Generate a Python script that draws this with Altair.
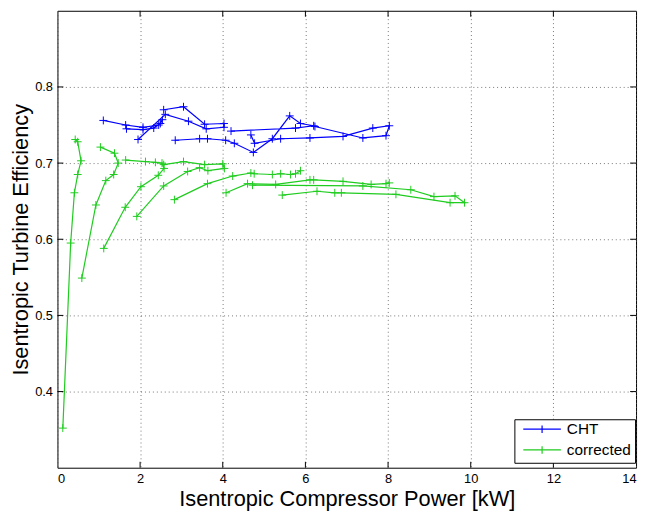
import altair as alt
import pandas as pd

# ---------------- data ----------------
series_names = ["CHT", "corrected"]
series_colors = ["#0000ff", "#1fcc1f"]

# CHT (blue) - one id per speed line
cht_line = [3]*9 + [4]*9 + [5]*12 + [6]*10
cht_x = [1.11, 1.65, 2.07, 2.45, 2.54, 2.49, 2.33, 2.07, 1.67,
         1.95, 2.61, 3.17, 3.60, 4.03, 4.03, 3.56, 3.05, 2.57,
         2.85, 3.44, 3.63, 4.07, 4.28, 4.74, 5.20, 5.62, 5.88, 6.20, 5.76, 4.20,
         4.68, 4.77, 5.40, 6.11, 6.91, 7.63, 8.03, 7.95, 7.39, 6.23]
cht_y = [0.756, 0.750, 0.747, 0.750, 0.757, 0.752, 0.746, 0.744, 0.745,
         0.731, 0.764, 0.755, 0.745, 0.747, 0.752, 0.751, 0.774, 0.770,
         0.730, 0.732, 0.732, 0.730, 0.726, 0.714, 0.732, 0.762, 0.752, 0.749, 0.746, 0.742,
         0.737, 0.726, 0.732, 0.733, 0.735, 0.746, 0.749, 0.736, 0.733, 0.748]

# corrected (green)
corr_line = [1]*7 + [2]*7 + [3]*9 + [4]*10 + [5]*10 + [6]*9 + [7]*12
corr_x = [0.13, 0.32, 0.41, 0.49, 0.57, 0.49, 0.43,
          0.59, 0.93, 1.17, 1.36, 1.47, 1.38, 1.04,
          1.12, 1.64, 2.02, 2.44, 2.58, 2.53, 2.37, 2.13, 1.65,
          1.92, 2.57, 3.15, 3.44, 3.64, 4.04, 4.00, 3.56, 3.05, 2.57,
          2.83, 3.63, 4.24, 4.68, 4.76, 5.20, 5.40, 5.64, 5.76, 5.88,
          4.08, 4.60, 5.28, 6.11, 6.20, 6.91, 7.59, 7.95, 8.03,
          4.72, 7.39, 8.55, 9.11, 9.62, 9.85, 9.50, 8.19, 6.87, 6.71, 6.28, 5.44]
corr_y = [0.352, 0.595, 0.661, 0.685, 0.703, 0.728, 0.731,
          0.549, 0.645, 0.677, 0.685, 0.700, 0.713, 0.721,
          0.588, 0.642, 0.669, 0.684, 0.693, 0.700, 0.701, 0.702, 0.704,
          0.630, 0.670, 0.689, 0.694, 0.690, 0.693, 0.699, 0.698, 0.702, 0.698,
          0.652, 0.673, 0.683, 0.687, 0.686, 0.685, 0.686, 0.685, 0.686, 0.690,
          0.661, 0.673, 0.672, 0.678, 0.678, 0.676, 0.672, 0.673, 0.674,
          0.671, 0.670, 0.665, 0.656, 0.657, 0.648, 0.648, 0.659, 0.661, 0.661, 0.663, 0.658]

x_ticks = [0, 2, 4, 6, 8, 10, 12, 14]
y_ticks = [0.4, 0.5, 0.6, 0.7, 0.8]
x_inner_ticks = [2, 4, 6, 8, 10, 12]

# ---------------- table ----------------
rows = []
for i, (x, y, s) in enumerate(zip(cht_x, cht_y, cht_line)):
    rows.append({"x": x, "y": y, "series": "CHT", "seg": f"CHT-{s}", "ord": i})
for i, (x, y, s) in enumerate(zip(corr_x, corr_y, corr_line)):
    rows.append({"x": x, "y": y, "series": "corrected", "seg": f"cor-{s}", "ord": i})
df = pd.DataFrame(rows)

xt = pd.DataFrame({"x": x_inner_ticks})
yt = pd.DataFrame({"y": y_ticks})

W, H = 585, 462
FONT = "Liberation Sans"

xscale = alt.Scale(domain=[0, 14], nice=False, zero=False)
yscale = alt.Scale(domain=[0.3, 0.9], nice=False, zero=False)
cscale = alt.Scale(domain=series_names, range=series_colors)

xaxis = alt.Axis(values=x_ticks, format="d", title="Isentropic Compressor Power [kW]",
                 grid=True, ticks=False, domain=False, labelFontSize=13, labelPadding=5,
                 labelColor="black", titleFontSize=22, titleFontWeight="normal",
                 titleColor="black", titleBaseline="alphabetic", titleY=38.5, titleX=W / 2)
yaxis = alt.Axis(values=y_ticks, format=".1f", title="Isentropic Turbine Efficiency",
                 grid=True, ticks=False, domain=False, labelFontSize=13, labelPadding=5,
                 labelColor="black", titleFontSize=22, titleFontWeight="normal",
                 titleColor="black", titleAngle=270, titleBaseline="alphabetic",
                 titleX=-30, titleY=H / 2, titleAlign="center")

legend = alt.Legend(
    title=None, orient="none", legendX=462, legendY=413,
    symbolType="M-1,0L1,0M0,-0.2L0,0.2", symbolSize=1444, symbolStrokeWidth=1.2,
    clipHeight=12, rowPadding=5, padding=4, symbolOffset=4, labelOffset=5,
    labelFontSize=15.5, labelColor="black", strokeColor="black", fillColor="white",
    cornerRadius=0)

plus = "M-1,0L1,0M0,-1L0,1"

lines = alt.Chart(df).mark_line(strokeWidth=1.2).encode(
    x=alt.X("x:Q", scale=xscale, axis=xaxis),
    y=alt.Y("y:Q", scale=yscale, axis=yaxis),
    color=alt.Color("series:N", scale=cscale, legend=legend),
    detail="seg:N",
    order="ord:Q",
)

points = alt.Chart(df).mark_point(shape=plus, size=64, filled=False, strokeWidth=1, opacity=1).encode(
    x=alt.X("x:Q", scale=xscale, axis=xaxis),
    y=alt.Y("y:Q", scale=yscale, axis=yaxis),
    color=alt.Color("series:N", scale=cscale, legend=legend),
)

tick_style = dict(color="black", strokeWidth=1)
bottom_ticks = alt.Chart(xt).mark_rule(**tick_style).encode(
    x=alt.X("x:Q", scale=xscale, axis=xaxis), y=alt.value(H), y2=alt.value(H - 6))
top_ticks = alt.Chart(xt).mark_rule(**tick_style).encode(
    x=alt.X("x:Q", scale=xscale, axis=xaxis), y=alt.value(0), y2=alt.value(6))
left_ticks = alt.Chart(yt).mark_rule(**tick_style).encode(
    y=alt.Y("y:Q", scale=yscale, axis=yaxis), x=alt.value(0), x2=alt.value(6))
right_ticks = alt.Chart(yt).mark_rule(**tick_style).encode(
    y=alt.Y("y:Q", scale=yscale, axis=yaxis), x=alt.value(W), x2=alt.value(W - 6))

chart = alt.layer(lines, points, bottom_ticks, top_ticks, left_ticks, right_ticks).properties(
    width=W, height=H,
    autosize=alt.AutoSizeParams(type="none"),
    padding={"left": 50, "top": 0, "right": 4, "bottom": 46},
).configure(font=FONT).configure_view(
    stroke="black", strokeWidth=1
).configure_axis(
    gridColor="#555555", gridDash=[1, 3], gridWidth=1, gridOpacity=0.8,
    labelFont=FONT, titleFont=FONT,
).configure_legend(labelFont=FONT)

chart.save("out.html", embed_options={"renderer": "svg", "actions": False})
